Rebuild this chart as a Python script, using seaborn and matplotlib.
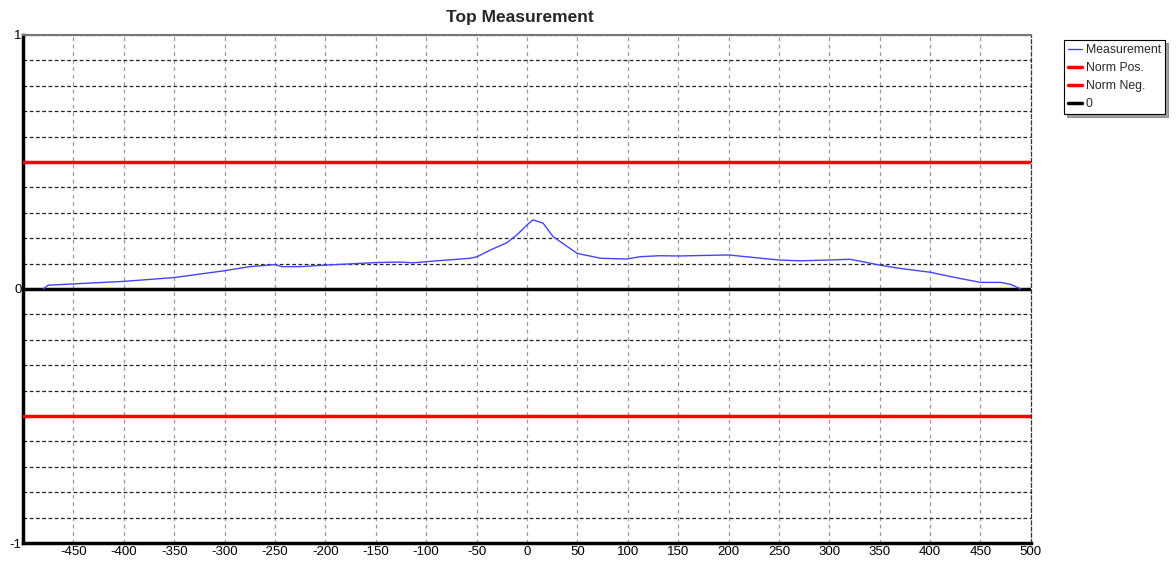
import numpy as np
import pandas as pd
import matplotlib
matplotlib.use("Agg")
import matplotlib.pyplot as plt
from matplotlib.ticker import MultipleLocator, FixedLocator
import seaborn as sns

# ---- data ----
meas_x = [-480, -475, -450, -400, -350, -300, -275, -250, -243, -225, -200, -150,
          -126, -113, -89, -56, -49.5, -36, -20, -10, 0, 6, 16, 26, 40, 50, 73,
          99, 112, 132, 150, 200, 250, 271, 300, 320, 330, 350, 370, 400, 420,
          450, 470, 480, 490]
meas_y = [0.0, 0.015, 0.02, 0.03, 0.045, 0.072, 0.088, 0.096, 0.088, 0.088, 0.094, 0.104,
          0.106, 0.103, 0.111, 0.121, 0.127, 0.154, 0.182, 0.213, 0.252, 0.272, 0.259, 0.206,
          0.167, 0.14, 0.121, 0.118, 0.127, 0.131, 0.13, 0.134, 0.114, 0.111, 0.114, 0.117,
          0.11, 0.094, 0.081, 0.066, 0.049, 0.026, 0.026, 0.018, 0.0]
norm_pos = 0.5
norm_neg = -0.5
zero_line = 0.0
x_range = [-500, 500]
x_ticks = list(range(-450, 501, 50))
y_ticks = [-1, 0, 1]
title = "Top Measurement"

sns.set_theme(style="white")
plt.rcParams['font.family'] = ['Liberation Sans', 'DejaVu Sans']

fig = plt.figure(figsize=(11.76, 5.64), dpi=100)
ax = fig.add_axes([0.0196, 0.0372, 0.857, 0.9008])

df = pd.DataFrame({"x": meas_x, "y": meas_y})
sns.lineplot(data=df, x="x", y="y", ax=ax, color="#4444ff", linewidth=1.0,
             label="Measurement", zorder=5)
sns.lineplot(x=x_range, y=[norm_pos] * 2, ax=ax, color="#ff0000", linewidth=2.5,
             label="Norm Pos.", zorder=4)
sns.lineplot(x=x_range, y=[norm_neg] * 2, ax=ax, color="#ff0000", linewidth=2.5,
             label="Norm Neg.", zorder=4)
sns.lineplot(x=x_range, y=[zero_line] * 2, ax=ax, color="black", linewidth=2.5,
             label="0", zorder=4)

ax.set_xlim(x_range)
ax.set_ylim(-1, 1)
ax.xaxis.set_major_locator(FixedLocator(x_ticks))
ax.set_xticklabels([str(t) for t in x_ticks])
ax.yaxis.set_major_locator(FixedLocator(y_ticks))
ax.set_yticklabels([str(t) for t in y_ticks])
ax.yaxis.set_minor_locator(MultipleLocator(0.1))
ax.tick_params(axis="both", which="both", length=0, labelsize=9.5, colors="black", pad=2)
ax.tick_params(axis="y", pad=1)
ax.set_xlabel("")
ax.set_ylabel("")

ax.grid(False)
ax.xaxis.grid(True, which="major", color="#999999", linestyle=(0, (3, 3)), linewidth=0.9)
ax.yaxis.grid(True, which="minor", color="#222222", linestyle=(0, (3, 2)), linewidth=0.9)
ax.yaxis.grid(True, which="major", color="#222222", linestyle=(0, (3, 2)), linewidth=0.9)
ax.set_axisbelow(True)

for s in ["left", "bottom"]:
    ax.spines[s].set_color("black")
    ax.spines[s].set_linewidth(2.5)
ax.spines["top"].set_color("#777777")
ax.spines["top"].set_linewidth(1.5)
ax.spines["right"].set_color("#333333")
ax.spines["right"].set_linestyle((0, (3, 2)))
ax.spines["right"].set_linewidth(0.9)

ax.set_title(title, fontsize=12.5, fontweight="bold", pad=9, x=0.493)

leg = ax.legend(loc="upper left", bbox_to_anchor=(1.033, 0.99), fontsize=8.8,
                frameon=True, fancybox=False, shadow=True, borderpad=0.35,
                handlelength=1.1, handletextpad=0.3, labelspacing=0.48,
                borderaxespad=0)
leg.get_frame().set_edgecolor("black")
leg.get_frame().set_linewidth(0.8)

fig.savefig("out.png", dpi=100)
